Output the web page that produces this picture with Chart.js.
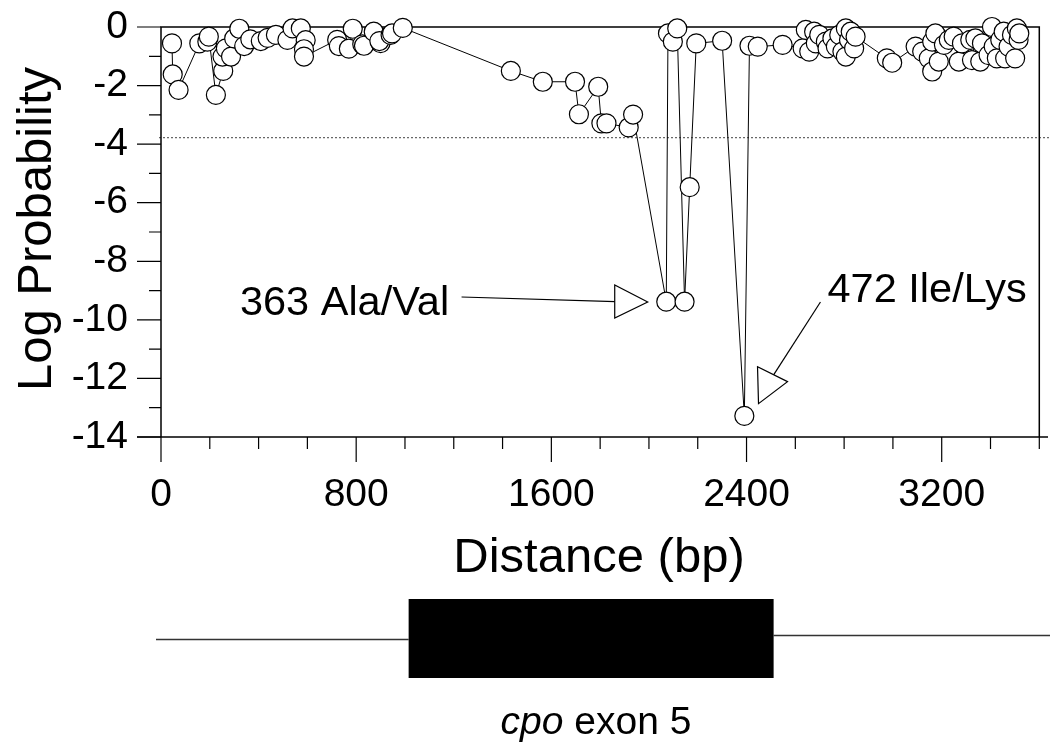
<!DOCTYPE html>
<html>
<head>
<meta charset="utf-8">
<script src="https://cdn.jsdelivr.net/npm/chart.js@4.4.1/dist/chart.umd.min.js"></script>
<style>
  html, body { margin: 0; padding: 0; background: #fff; }
  #wrap { width: 1050px; height: 745px; }
</style>
</head>
<body>
<div id="wrap"><canvas id="chart" width="1050" height="745"></canvas></div>
<script>
// ===== Log probability along cpo exon 5 =====

// Position along the sequence (bp), in plotting order
const distance = [
  45, 48, 72, 157, 190, 196, 225, 255, 252, 266, 287, 300, 321, 341, 366,
  409, 437, 471, 518, 539, 573, 593, 586, 586, 722, 729, 770, 786, 825, 832,
  872, 900, 895, 941, 947, 991, 1434, 1565, 1697, 1713, 1792, 1805, 1826, 1917, 1935,
  2071, 2078, 2098, 2116, 2146, 2167, 2194, 2300, 2391, 2412, 2446, 2548,
  2630, 2643, 2657, 2677, 2684, 2698, 2725, 2732, 2752, 2766, 2780, 2793, 2807, 2807,
  2820, 2827, 2841, 2847, 2975, 2997, 3093, 3120, 3147, 3161, 3161, 3174, 3188,
  3209, 3229, 3249, 3270, 3283, 3317, 3324, 3338, 3358, 3365, 3392, 3406, 3413,
  3426, 3440, 3454, 3460, 3474, 3488, 3501, 3508, 3515, 3518
];

// Log probability at each position
const logProb = [
  -0.56, -1.62, -2.15, -0.56, -0.50, -0.33, -2.32, -1.50, -1.01, -0.73, -1.01, -0.39, -0.06, -0.65, -0.42,
  -0.48, -0.37, -0.27, -0.44, -0.05, -0.05, -0.45, -0.76, -1.01, -0.44, -0.65, -0.74, -0.06, -0.59, -0.64,
  -0.16, -0.55, -0.48, -0.27, -0.22, -0.03, -1.50, -1.87, -1.87, -2.98, -2.04, -3.29, -3.29, -3.43, -2.99,
  -9.38, -0.22, -0.50, -0.05, -9.38, -5.47, -0.56, -0.47, -13.28, -0.64, -0.67, -0.61,
  -0.73, -0.10, -0.84, -0.16, -0.56, -0.27, -0.50, -0.73, -0.39, -0.67, -0.27, -0.84, -1.01, -0.05,
  -0.44, -0.16, -0.73, -0.33, -1.07, -1.22, -0.67, -0.84, -1.07, -1.52, -0.50, -0.22, -1.18,
  -0.61, -0.44, -0.33, -1.18, -0.56, -0.44, -1.13, -0.39, -1.18, -0.56, -0.96, 0.00, -0.67,
  -1.07, -0.44, -0.16, -1.07, -0.67, -0.27, -1.07, -0.05, -0.44, -0.22
];

// Axis labels
const xTickLabels = [0, 800, 1600, 2400, 3200];
const yTickLabels = [0, -2, -4, -6, -8, -10, -12, -14];

// Significance threshold (dotted line)
const threshold = -3.78;

// Exon block along the distance axis
const exonStart = 1015;
const exonEnd = 2511;

// Annotated substitutions
const annotations = [
  { text: "363 Ala/Val", textX: 1181, textY: -9.83, align: "right",
    from: [1232, -9.22], to: [1862, -9.38], tip: [1995, -9.39],
    corners: [[-33, -17], [-33, 16]] },
  { text: "472 Ile/Lys", textX: 2732, textY: -9.39, align: "left",
    from: [2703, -9.39], to: [2511, -11.88], tip: [2568, -12.11],
    corners: [[-30, -15], [-29, 22]] }
];

const FONT = "'Liberation Sans', Arial, sans-serif";

// drop the label overhang chart.js reserves around each axis
function noOverhang(scale) {
  scale.paddingTop = 0;
  scale.paddingBottom = 0;
  scale.paddingLeft = 0;
  scale.paddingRight = 0;
}

const framePlugin = {
  id: "frame",
  beforeDatasetsDraw(chart) {
    const { ctx, chartArea: a, scales: { x, y } } = chart;
    ctx.save();

    // threshold line
    ctx.lineWidth = 1;
    ctx.setLineDash([2, 2]);
    ctx.strokeStyle = "#444";
    const ty = y.getPixelForValue(threshold);
    ctx.beginPath();
    ctx.moveTo(a.left - 2, ty);
    ctx.lineTo(chart.width, ty);
    ctx.stroke();
    ctx.setLineDash([]);

    // box
    ctx.strokeStyle = "#000";
    ctx.lineWidth = 1.5;
    ctx.beginPath();
    ctx.moveTo(a.left, a.bottom);
    ctx.lineTo(a.left, a.top);
    ctx.lineTo(a.right, a.top);
    ctx.lineTo(a.right, a.bottom);
    ctx.moveTo(a.left - 24, a.bottom);
    ctx.lineTo(chart.width - 2, a.bottom);
    ctx.stroke();

    // y tick marks
    ctx.lineWidth = 1.2;
    ctx.beginPath();
    for (let v = 0; v >= -14; v--) {
      const py = y.getPixelForValue(v);
      const len = v % 2 === 0 ? 24 : 12;
      ctx.moveTo(a.left - len, py);
      ctx.lineTo(a.left, py);
    }
    // x tick marks
    for (let v = 0; v <= 3600; v += 200) {
      const px = x.getPixelForValue(v);
      const len = v % 800 === 0 ? 25 : 12;
      ctx.moveTo(px, a.bottom);
      ctx.lineTo(px, a.bottom + len);
    }
    ctx.stroke();
    ctx.restore();
  },
  afterDraw(chart) {
    const { ctx, scales: { x, y } } = chart;
    ctx.save();
    ctx.fillStyle = "#000";
    ctx.strokeStyle = "#000";

    // annotations: label, leader line, open triangle
    ctx.font = "41.5px " + FONT;
    ctx.textBaseline = "alphabetic";
    annotations.forEach(an => {
      ctx.textAlign = an.align;
      ctx.fillText(an.text, x.getPixelForValue(an.textX), y.getPixelForValue(an.textY));
      ctx.lineWidth = 1.2;
      ctx.beginPath();
      ctx.moveTo(x.getPixelForValue(an.from[0]), y.getPixelForValue(an.from[1]));
      ctx.lineTo(x.getPixelForValue(an.to[0]), y.getPixelForValue(an.to[1]));
      ctx.stroke();
      const tx = x.getPixelForValue(an.tip[0]);
      const tyy = y.getPixelForValue(an.tip[1]);
      ctx.beginPath();
      ctx.moveTo(tx, tyy);
      ctx.lineTo(tx + an.corners[0][0], tyy + an.corners[0][1]);
      ctx.lineTo(tx + an.corners[1][0], tyy + an.corners[1][1]);
      ctx.closePath();
      ctx.fillStyle = "#fff";
      ctx.fill();
      ctx.stroke();
      ctx.fillStyle = "#000";
    });

    // axis titles
    ctx.font = "49px " + FONT;
    ctx.textAlign = "center";
    ctx.fillText("Distance (bp)", 599, 572);
    ctx.save();
    ctx.translate(51, 229);
    ctx.rotate(-Math.PI / 2);
    ctx.fillText("Log Probability", 0, 0);
    ctx.restore();

    // gene diagram
    const x0 = x.getPixelForValue(exonStart);
    const x1 = x.getPixelForValue(exonEnd);
    ctx.lineWidth = 1.5;
    ctx.strokeStyle = "#333";
    ctx.beginPath();
    ctx.moveTo(156, 639.5);
    ctx.lineTo(x0, 639.5);
    ctx.moveTo(x1, 635.5);
    ctx.lineTo(chart.width, 635.5);
    ctx.stroke();
    ctx.fillRect(x0, 599, x1 - x0, 79);

    // exon label
    ctx.font = "italic 39px " + FONT;
    const w1 = ctx.measureText("cpo").width;
    ctx.font = "39px " + FONT;
    const w2 = ctx.measureText(" exon 5").width;
    const startX = 596 - (w1 + w2) / 2;
    ctx.textAlign = "left";
    ctx.font = "italic 39px " + FONT;
    ctx.fillText("cpo", startX, 734);
    ctx.font = "39px " + FONT;
    ctx.fillText(" exon 5", startX + w1, 734);
    ctx.restore();
  }
};

new Chart(document.getElementById("chart"), {
  type: "line",
  data: {
    datasets: [{
      data: distance.map((d, i) => ({ x: d, y: logProb[i] })),
      borderColor: "#000",
      borderWidth: 1,
      tension: 0,
      fill: false,
      clip: false,
      pointRadius: 9.5,
      pointBorderWidth: 1.2,
      pointBorderColor: "#000",
      pointBackgroundColor: "#fff"
    }]
  },
  options: {
    responsive: false,
    animation: false,
    events: [],
    layout: { padding: { left: 0, right: 8, top: 27, bottom: 0 } },
    plugins: { legend: { display: false }, tooltip: { enabled: false } },
    scales: {
      x: {
        type: "linear",
        min: 0,
        max: 3600,
        grid: { display: false },
        border: { display: false },
        afterFit(scale) { scale.height = 308; noOverhang(scale); },
        ticks: {
          stepSize: 200,
          autoSkip: false,
          maxRotation: 0,
          padding: 27,
          color: "#000",
          font: { size: 39, family: FONT },
          callback: v => xTickLabels.includes(v) ? String(v) : ""
        }
      },
      y: {
        min: -14,
        max: 0,
        grid: { display: false },
        border: { display: false },
        afterFit(scale) { scale.width = 161; noOverhang(scale); },
        ticks: {
          stepSize: 1,
          autoSkip: false,
          padding: 25,
          color: "#000",
          font: { size: 39, family: FONT },
          callback: v => yTickLabels.includes(v) ? String(v) : ""
        }
      }
    }
  },
  plugins: [framePlugin]
});
</script>
</body>
</html>
